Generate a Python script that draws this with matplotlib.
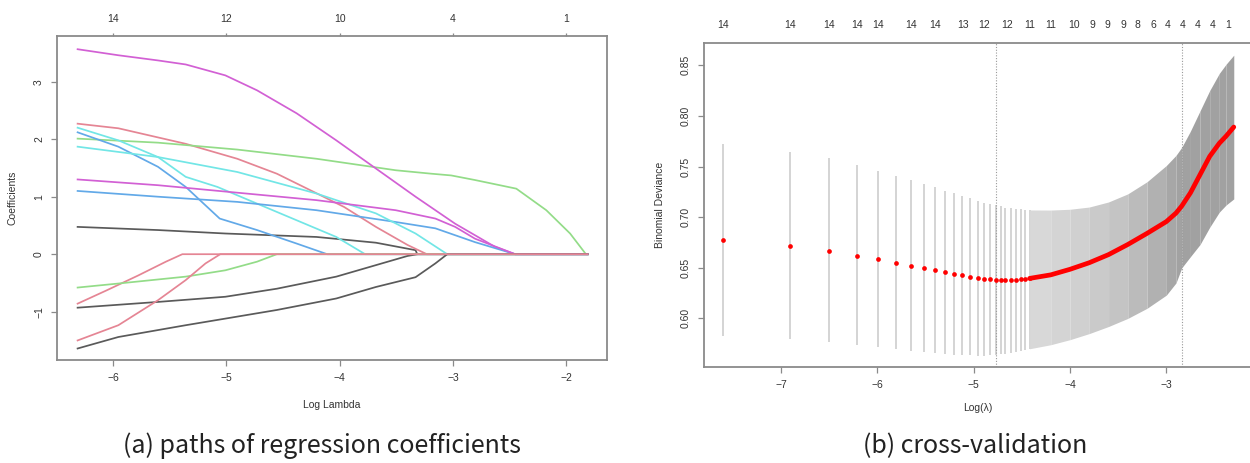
import numpy as np
import matplotlib.pyplot as plt

plt.rcParams['font.family'] = ['Liberation Sans', 'DejaVu Sans']

W, H = 1250, 463

# ---------------- (a) coefficient paths (log lambda, coefficient) ----------------
path_end = -1.81

blk1_x = [-6.315, -5.605, -5.01, -4.205, -3.68, -3.33, -3.315]
blk1_y = [0.475, 0.42, 0.36, 0.30, 0.20, 0.07, 0.0]
red1_x = [-6.315, -5.955, -5.36, -4.905, -4.555, -4.205, -3.96, -3.68, -3.40, -3.23]
red1_y = [2.27, 2.19, 1.92, 1.66, 1.40, 1.06, 0.82, 0.475, 0.16, 0.0]
grn1_x = [-6.315, -5.605, -4.905, -4.205, -3.505, -3.19, -3.015, -2.805, -2.44, -2.175, -1.965, -1.825]
grn1_y = [2.01, 1.94, 1.82, 1.66, 1.46, 1.40, 1.37, 1.29, 1.14, 0.765, 0.36, 0.0]
blu1_x = [-6.315, -5.955, -5.605, -5.36, -5.06, -4.73, -4.38, -4.11]
blu1_y = [2.12, 1.87, 1.52, 1.17, 0.62, 0.42, 0.185, 0.0]
cyn1_x = [-6.315, -5.955, -5.605, -5.36, -5.08, -4.73, -4.38, -4.03, -3.775]
cyn1_y = [2.20, 1.98, 1.69, 1.345, 1.17, 0.88, 0.59, 0.30, 0.0]
mag1_x = [-6.315, -5.955, -5.605, -5.36, -5.01, -4.73, -4.38, -4.03, -3.68, -3.33, -2.98, -2.63, -2.45]
mag1_y = [3.565, 3.46, 3.37, 3.30, 3.11, 2.85, 2.45, 1.98, 1.49, 1.0, 0.53, 0.13, 0.0]
blk2_x = [-6.315, -5.605, -5.01, -4.555, -4.03, -3.68, -3.40, -3.31]
blk2_y = [-0.93, -0.83, -0.74, -0.60, -0.39, -0.19, -0.03, 0.0]
red2_x = [-6.315, -6.06, -5.78, -5.535, -5.39]
red2_y = [-0.86, -0.63, -0.37, -0.13, 0.0]
grn2_x = [-6.315, -5.955, -5.36, -5.01, -4.73, -4.555]
grn2_y = [-0.58, -0.51, -0.39, -0.28, -0.13, 0.0]
blu2_x = [-6.315, -5.605, -4.905, -4.205, -3.505, -3.155, -2.805, -2.45]
blu2_y = [1.10, 1.0, 0.91, 0.765, 0.56, 0.45, 0.21, 0.0]
cyn2_x = [-6.315, -5.605, -4.905, -4.205, -3.68, -3.33, -3.05]
cyn2_y = [1.87, 1.69, 1.43, 1.055, 0.71, 0.36, 0.0]
mag2_x = [-6.315, -5.605, -4.905, -4.205, -3.505, -3.155, -2.98, -2.805, -2.45]
mag2_y = [1.30, 1.20, 1.07, 0.94, 0.765, 0.62, 0.475, 0.27, 0.0]
blk3_x = [-6.315, -5.955, -5.36, -5.01, -4.555, -4.03, -3.68, -3.33, -3.155, -3.05]
blk3_y = [-1.64, -1.44, -1.235, -1.12, -0.97, -0.77, -0.57, -0.40, -0.16, 0.0]
red3_x = [-6.315, -5.955, -5.605, -5.36, -5.185, -5.055]
red3_y = [-1.50, -1.235, -0.80, -0.45, -0.16, 0.0]

df_ticks = [-6, -5, -4, -3, -2]
df_labels = ['14', '12', '10', '4', '1']

# ---------------- (b) cross-validation curve ----------------
# separate points (log lambda, mean deviance, upper, lower)
sp_x = [-7.60, -6.91, -6.50, -6.21, -5.99, -5.81, -5.65, -5.52, -5.40, -5.30, -5.20, -5.12,
        -5.04, -4.96, -4.89, -4.83, -4.77, -4.72, -4.67, -4.61, -4.56, -4.51, -4.47, -4.42]
sp_cvm = [0.677, 0.672, 0.667, 0.662, 0.659, 0.655, 0.652, 0.650, 0.648, 0.646, 0.644, 0.643,
          0.641, 0.640, 0.639, 0.6385, 0.638, 0.638, 0.638, 0.638, 0.6383, 0.6386, 0.639, 0.6395]
sp_up = [0.772, 0.764, 0.758, 0.752, 0.746, 0.741, 0.737, 0.733, 0.730, 0.726, 0.724, 0.721,
         0.719, 0.716, 0.714, 0.713, 0.712, 0.711, 0.7095, 0.7088, 0.708, 0.7077, 0.7073, 0.7071]
sp_lo = [0.583, 0.580, 0.577, 0.574, 0.572, 0.570, 0.568, 0.567, 0.566, 0.565, 0.564, 0.5638,
         0.5635, 0.5632, 0.5632, 0.5635, 0.5640, 0.5645, 0.5652, 0.5660, 0.567, 0.568, 0.569, 0.570]
# dense part, where points merge into a band
dn_x = [-4.42, -4.2, -4.0, -3.8, -3.6, -3.4, -3.2, -3.0, -2.9, -2.84, -2.75, -2.65, -2.55, -2.45, -2.38, -2.30]
dn_cvm = [0.6395, 0.643, 0.6485, 0.655, 0.663, 0.673, 0.684, 0.6956, 0.704, 0.711, 0.724, 0.742, 0.760, 0.773, 0.780, 0.789]
dn_up = [0.7071, 0.707, 0.7078, 0.710, 0.715, 0.723, 0.735, 0.751, 0.761, 0.769, 0.785, 0.805, 0.825, 0.842, 0.851, 0.860]
dn_lo = [0.570, 0.574, 0.579, 0.585, 0.592, 0.600, 0.610, 0.623, 0.635, 0.650, 0.661, 0.673, 0.690, 0.705, 0.712, 0.718]

lam_min, lam_1se = -4.77, -2.84

nz_x = [-7.60, -6.91, -6.50, -6.21, -5.99, -5.65, -5.40, -5.11, -4.89, -4.65, -4.42, -4.20,
        -3.96, -3.77, -3.616, -3.45, -3.295, -3.139, -2.983, -2.828, -2.672, -2.516, -2.361]
nz_labels = ['14', '14', '14', '14', '14', '14', '14', '13', '12', '12', '11', '11',
             '10', '9', '9', '9', '8', '6', '4', '4', '4', '4', '1']


def px_axes(fig, left, top, right, bottom):
    return fig.add_axes([left / W, 1 - bottom / H, (right - left) / W, (bottom - top) / H])


def style_axes(ax):
    for s in ax.spines.values():
        s.set_color('#8a8a8a')
        s.set_linewidth(1.3)
    ax.tick_params(direction='out', length=4.3, width=0.9, color='#8a8a8a',
                   labelsize=7.5, labelcolor='#333333', pad=5)


fig = plt.figure(figsize=(W / 100, H / 100), dpi=100)

# ----- left panel -----
ax1 = px_axes(fig, 57, 36, 607, 360)
style_axes(ax1)
paths = [(blk1_x, blk1_y, '#5a5a5a'), (red1_x, red1_y, '#e58594'), (grn1_x, grn1_y, '#93dc88'),
         (blu1_x, blu1_y, '#62a9e8'), (cyn1_x, cyn1_y, '#72e6e6'), (mag1_x, mag1_y, '#d260d4'),
         (blk2_x, blk2_y, '#5a5a5a'), (red2_x, red2_y, '#e58594'), (grn2_x, grn2_y, '#93dc88'),
         (blu2_x, blu2_y, '#62a9e8'), (cyn2_x, cyn2_y, '#72e6e6'), (mag2_x, mag2_y, '#d260d4'),
         (blk3_x, blk3_y, '#5a5a5a'), (red3_x, red3_y, '#e58594')]
for xs, ys, c in paths:
    ax1.plot(list(xs) + [path_end], list(ys) + [0.0], color=c, lw=1.25)
ax1.set_xlim(-6.497, -1.639)
ax1.set_ylim(-1.84, 3.795)
ax1.set_xticks([-6, -5, -4, -3, -2])
ax1.set_xticklabels(['\u22126', '\u22125', '\u22124', '\u22123', '\u22122'])
ax1.set_yticks([-1, 0, 1, 2, 3])
ax1.set_yticklabels(['\u22121', '0', '1', '2', '3'], rotation=90, va='center')
top1 = ax1.secondary_xaxis('top')
top1.set_xticks(df_ticks)
top1.set_xticklabels(df_labels)
top1.tick_params(direction='out', length=2.5, width=0.9, color='#8a8a8a',
                 labelsize=7.5, labelcolor='#333333', pad=6)
top1.spines['top'].set_visible(False)
fig.text(332 / W, 1 - 405 / H, 'Log Lambda', ha='center', va='center', fontsize=7.5, color='#333333')
fig.text(13 / W, 1 - 198 / H, 'Coefficients', ha='center', va='center', rotation=90,
         fontsize=7.5, color='#333333')

# ----- right panel -----
ax2 = px_axes(fig, 704, 43, 1254, 367)
style_axes(ax2)
# error bars at the separate points
ax2.vlines(sp_x, sp_lo, sp_up, color='#c9c9c9', lw=1.1, zorder=1)
# dense band: shade darker where more bars overlap
for i in range(len(dn_x) - 1):
    mid = 0.5 * (dn_x[i] + dn_x[i + 1])
    dens = min(1.0, np.exp(mid) / 0.0005 / 115)
    g = 0.90 - 0.27 * dens ** 1.1
    ax2.fill_between(dn_x[i:i + 2], dn_lo[i:i + 2], dn_up[i:i + 2], color=(g, g, g),
                     lw=0, zorder=1)
ax2.axvline(lam_min, color='#9a9a9a', lw=0.8, ls=(0, (1, 1.5)), zorder=2)
ax2.axvline(lam_1se, color='#9a9a9a', lw=0.8, ls=(0, (1, 1.5)), zorder=2)
ax2.plot(dn_x, dn_cvm, color='#ff0000', lw=3.4, solid_capstyle='round', zorder=3)
ax2.plot(sp_x, sp_cvm, 'o', color='#ff0000', ms=3.4, mec='none', zorder=4)
ax2.set_xlim(-7.80, -2.09)
ax2.set_ylim(0.552, 0.872)
ax2.set_xticks([-7, -6, -5, -4, -3])
ax2.set_xticklabels(['\u22127', '\u22126', '\u22125', '\u22124', '\u22123'])
ax2.set_yticks([0.60, 0.65, 0.70, 0.75, 0.80, 0.85])
ax2.set_yticklabels(['0.60', '0.65', '0.70', '0.75', '0.80', '0.85'], rotation=90, va='center')
top2 = ax2.secondary_xaxis('top')
top2.set_xticks(nz_x)
top2.set_xticklabels(nz_labels)
top2.tick_params(length=0, labelsize=7.5, labelcolor='#333333', pad=9.5)
top2.spines['top'].set_visible(False)
fig.text(978 / W, 1 - 408 / H, 'Log(\u03bb)', ha='center', va='center', fontsize=7.5, color='#333333')
fig.text(660 / W, 1 - 205 / H, 'Binomial Deviance', ha='center', va='center', rotation=90,
         fontsize=7.5, color='#333333')

# captions
fig.text(322 / W, 1 - 446 / H, '(a) paths of regression coefficients', ha='center', va='center',
         fontsize=18, family=['Noto Sans CJK SC', 'DejaVu Sans'], color='#222222')
fig.text(975 / W, 1 - 446 / H, '(b) cross-validation', ha='center', va='center',
         fontsize=18, family=['Noto Sans CJK SC', 'DejaVu Sans'], color='#222222')

fig.savefig('out.png', dpi=100)
